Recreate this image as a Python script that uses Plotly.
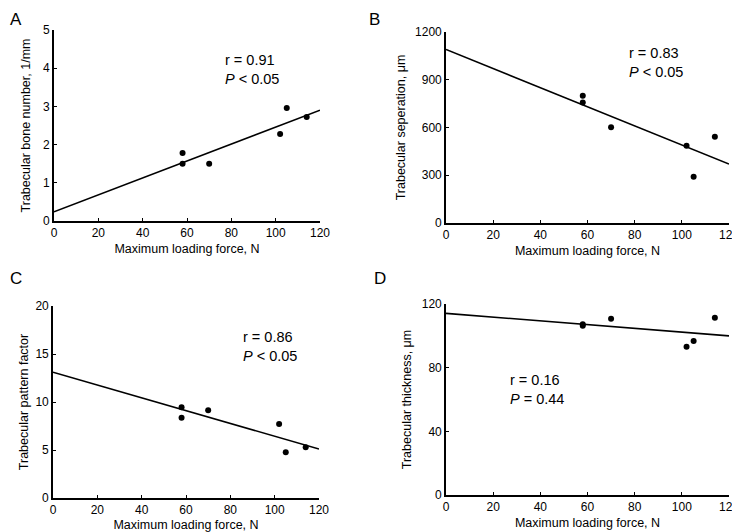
import plotly.graph_objects as go

# Maximum loading force (N) for each animal, same for all four panels
force = [58, 58, 70, 102, 105, 114]

# Panel values
bone_number = [1.78, 1.50, 1.50, 2.28, 2.96, 2.72]
separation = [799, 757, 601, 485, 290, 542]
pattern_factor = [9.45, 8.37, 9.13, 7.70, 4.76, 5.28]
thickness = [107.2, 106.4, 110.8, 93.1, 96.7, 111.4]

# Regression line end points at 0 and 120 N
fit_x = [0, 120]
fit_bone_number = [0.24, 2.90]
fit_separation = [1090, 370]
fit_pattern_factor = [13.1, 5.1]
fit_thickness = [114.1, 100.0]

y_titles = [
    "Trabecular bone number, 1/mm",
    "Trabecular seperation, μm",
    "Trabecular pattern factor",
    "Trabecular thickness, μm",
]
stats = [
    "r = 0.91<br><i>P</i> &lt; 0.05",
    "r = 0.83<br><i>P</i> &lt; 0.05",
    "r = 0.86<br><i>P</i> &lt; 0.05",
    "r = 0.16<br><i>P</i> = 0.44",
]
panel_letters = ["A", "B", "C", "D"]
y_ranges = [[0, 5], [0, 1200], [0, 20], [0, 120]]
y_dtick = [1, 300, 5, 40]

font_family = "Liberation Sans, Arial, sans-serif"

panels = [
    (bone_number, fit_bone_number),
    (separation, fit_separation),
    (pattern_factor, fit_pattern_factor),
    (thickness, fit_thickness),
]

# the page body has an 8px margin, so the figure is made 8px smaller
W, H, OFF = 732, 524, 8


def px_x(p):
    return (p - OFF) / W


def px_y(p):
    return 1 - (p - OFF) / H


# plot areas in window pixels: (left, right, top, bottom)
boxes = [(54, 320, 30, 221), (446, 729, 32, 223), (53, 319, 306, 498), (446, 729, 304, 495)]
y_standoff = [10, 7, 4, 7]
# stats text position (data units, top-left)
stat_pos = [(76.2, 4.47), (76.7, 1130), (84.8, 17.8), (26.3, 78.5)]
# panel letter position (window pixels, top-left)
letter_px = [(7, 3), (367, 3), (7, 267), (372, 267)]

fig = go.Figure()
layout = {}
annotations = []

for i, (vals, fit_vals) in enumerate(panels):
    n = "" if i == 0 else str(i + 1)
    xa, ya = "x" + n, "y" + n
    left, right, top, bottom = boxes[i]

    fig.add_trace(go.Scatter(
        x=fit_x, y=fit_vals, mode="lines",
        line=dict(color="black", width=1.6),
        xaxis=xa, yaxis=ya, showlegend=False, hoverinfo="skip",
        cliponaxis=False))
    fig.add_trace(go.Scatter(
        x=force, y=vals, mode="markers",
        marker=dict(color="black", size=6),
        xaxis=xa, yaxis=ya, showlegend=False, cliponaxis=False))

    layout["xaxis" + n] = dict(
        domain=[px_x(left), px_x(right)], anchor=ya, range=[0, 120], dtick=20,
        automargin=False,
        showgrid=False, zeroline=False, showline=True, linecolor="black",
        linewidth=1.6, ticks="inside", ticklen=3, tickcolor="black",
        tickfont=dict(size=12, color="black"),
        title=dict(text="Maximum loading force, N", standoff=5,
                   font=dict(size=12.5, color="black")))
    layout["yaxis" + n] = dict(
        domain=[px_y(bottom), px_y(top)], anchor=xa, range=y_ranges[i],
        dtick=y_dtick[i], automargin=False,
        showgrid=False, zeroline=False, showline=True, linecolor="black",
        linewidth=1.6, ticks="inside", ticklen=3, tickcolor="black",
        tickfont=dict(size=12, color="black"),
        title=dict(text=y_titles[i], standoff=y_standoff[i],
                   font=dict(size=12.5, color="black")))

    annotations.append(dict(
        x=stat_pos[i][0], y=stat_pos[i][1], xref=xa, yref=ya,
        text=stats[i], showarrow=False, xanchor="left", yanchor="top",
        align="left", font=dict(size=14.5, color="black")))
    annotations.append(dict(
        x=max(px_x(letter_px[i][0]), 0), y=min(px_y(letter_px[i][1]), 1),
        xref="paper", yref="paper",
        text=panel_letters[i], showarrow=False, xanchor="left", yanchor="top",
        font=dict(size=17, color="black")))

fig.update_layout(
    **layout,
    annotations=annotations,
    width=W, height=H,
    margin=dict(l=0, r=0, t=0, b=0, autoexpand=False),
    paper_bgcolor="white", plot_bgcolor="white",
    font=dict(family=font_family, color="black"),
)

fig.write_html("out.html")
